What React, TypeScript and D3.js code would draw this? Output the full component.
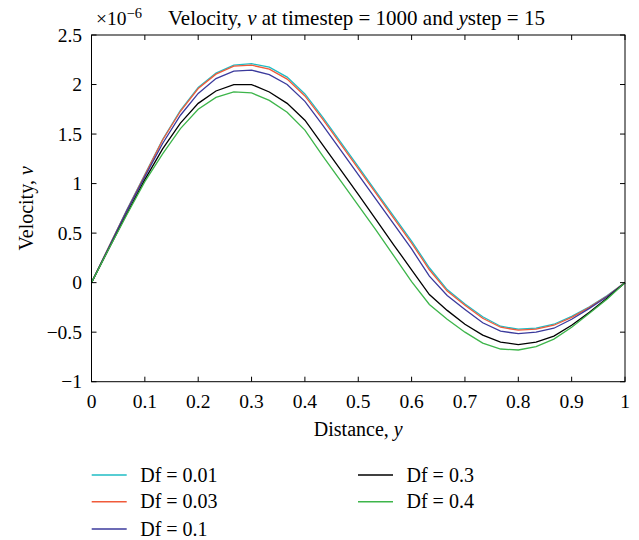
import React from "react";
import * as d3 from "d3";

const distance = [
  0, 0.0333, 0.0667, 0.1, 0.1333, 0.1667, 0.2, 0.2333, 0.2667, 0.3, 0.3333,
  0.3667, 0.4, 0.4333, 0.4667, 0.5, 0.5333, 0.5667, 0.6, 0.6333, 0.6667,
  0.7, 0.7333, 0.7667, 0.8, 0.8333, 0.8667, 0.9, 0.9333, 0.9667, 1,
];

const df001 = [
  0, 0.37, 0.74, 1.09, 1.445, 1.74, 1.97, 2.115, 2.195, 2.21, 2.175, 2.075,
  1.905, 1.67, 1.42, 1.17, 0.92, 0.67, 0.42, 0.15, -0.07, -0.215, -0.345,
  -0.44, -0.47, -0.46, -0.42, -0.34, -0.245, -0.13, 0,
];
const df003 = [
  0, 0.37, 0.735, 1.085, 1.44, 1.73, 1.96, 2.105, 2.185, 2.195, 2.155, 2.055,
  1.885, 1.65, 1.4, 1.15, 0.9, 0.65, 0.4, 0.13, -0.085, -0.228, -0.36, -0.45,
  -0.48, -0.47, -0.43, -0.35, -0.25, -0.135, 0,
];
const df01 = [
  0, 0.365, 0.73, 1.07, 1.405, 1.69, 1.91, 2.06, 2.135, 2.145, 2.1, 2.0, 1.83,
  1.59, 1.34, 1.09, 0.84, 0.59, 0.34, 0.065, -0.13, -0.27, -0.405, -0.49,
  -0.515, -0.5, -0.46, -0.37, -0.26, -0.14, 0,
];
const df03 = [
  0, 0.35, 0.7, 1.04, 1.35, 1.61, 1.81, 1.935, 2.0, 2.0, 1.925, 1.81, 1.64,
  1.39, 1.14, 0.89, 0.635, 0.38, 0.13, -0.12, -0.28, -0.42, -0.53, -0.6,
  -0.625, -0.6, -0.54, -0.43, -0.3, -0.155, 0,
];
const df04 = [
  0, 0.35, 0.69, 1.02, 1.3, 1.555, 1.75, 1.87, 1.925, 1.915, 1.84, 1.72, 1.54,
  1.28, 1.03, 0.78, 0.53, 0.27, 0.01, -0.22, -0.37, -0.5, -0.61, -0.67, -0.68,
  -0.645, -0.57, -0.45, -0.31, -0.165, 0,
];

const seriesNames = ["Df = 0.01", "Df = 0.03", "Df = 0.1", "Df = 0.3", "Df = 0.4"];
const seriesValues = [df001, df003, df01, df03, df04];
const seriesColors = ["#1fbcc4", "#f05a3a", "#3b3a9c", "#000000", "#3db54a"];

const xTicks = [0, 0.1, 0.2, 0.3, 0.4, 0.5, 0.6, 0.7, 0.8, 0.9, 1];
const xTickLabels = ["0", "0.1", "0.2", "0.3", "0.4", "0.5", "0.6", "0.7", "0.8", "0.9", "1"];
const yTicks = [-1, -0.5, 0, 0.5, 1, 1.5, 2, 2.5];
const yTickLabels = ["\u22121", "\u22120.5", "0", "0.5", "1", "1.5", "2", "2.5"];

const FONT = "'Liberation Serif', 'Times New Roman', serif";

export default function App() {
  const W = 639;
  const H = 540;
  const left = 91.5;
  const right = 625;
  const top = 35;
  const bottom = 381.7;
  const x = d3.scaleLinear().domain([0, 1]).range([left, right]);
  const y = d3.scaleLinear().domain([-1, 2.5]).range([bottom, top]);
  const line = d3
    .line<number>()
    .x((_, i) => x(distance[i]))
    .y((d) => y(d));
  const tick = 5;

  const legendPos = [
    { lx: 91.7, ty: 475 },
    { lx: 91.7, ty: 501.7 },
    { lx: 91.7, ty: 529 },
    { lx: 358, ty: 475 },
    { lx: 358, ty: 501.7 },
  ];

  return (
    <svg
      width={W}
      height={H}
      style={{ position: "absolute", left: 0, top: 0, background: "#fff" }}
      fontFamily={FONT}
    >
      <rect x={0} y={0} width={W} height={H} fill="#fff" />
      {seriesValues.map((vals, i) => (
        <path
          key={i}
          d={line(vals) || ""}
          fill="none"
          stroke={seriesColors[i]}
          strokeWidth={1.3}
        />
      ))}
      <rect
        x={left}
        y={top}
        width={right - left}
        height={bottom - top}
        fill="none"
        stroke="#000"
        strokeWidth={1}
      />
      {xTicks.map((t, i) => (
        <g key={"x" + i}>
          <line x1={x(t)} x2={x(t)} y1={bottom} y2={bottom - tick} stroke="#000" />
          <line x1={x(t)} x2={x(t)} y1={top} y2={top + tick} stroke="#000" />
          <text x={x(t)} y={407.5} fontSize={19.5} textAnchor="middle" fill="#000">
            {xTickLabels[i]}
          </text>
        </g>
      ))}
      {yTicks.map((t, i) => (
        <g key={"y" + i}>
          <line x1={left} x2={left + tick} y1={y(t)} y2={y(t)} stroke="#000" />
          <line x1={right} x2={right - tick} y1={y(t)} y2={y(t)} stroke="#000" />
          <text x={82} y={y(t) + 6.5} fontSize={19.5} textAnchor="end" fill="#000">
            {yTickLabels[i]}
          </text>
        </g>
      ))}
      <text x={(left + right) / 2} y={436} fontSize={20} textAnchor="middle" fill="#000">
        Distance, <tspan fontStyle="italic">y</tspan>
      </text>
      <text
        transform={`translate(33, ${(top + bottom) / 2}) rotate(-90)`}
        fontSize={20}
        textAnchor="middle"
        fill="#000"
      >
        Velocity, <tspan fontStyle="italic">v</tspan>
      </text>
      <text x={96} y={25} fontSize={19.5} fill="#000">
        ×10
        <tspan dy={-7} fontSize={14.5}>
          −6
        </tspan>
      </text>
      <text x={168} y={25} fontSize={21} fill="#000">
        Velocity, <tspan fontStyle="italic">v</tspan> at timestep = 1000 and{" "}
        <tspan fontStyle="italic">y</tspan>step = 15
      </text>
      {seriesNames.map((name, i) => (
        <g key={"l" + i}>
          <line
            x1={legendPos[i].lx}
            x2={legendPos[i].lx + 35}
            y1={legendPos[i].ty}
            y2={legendPos[i].ty}
            stroke={seriesColors[i]}
            strokeWidth={1.5}
          />
          <text x={legendPos[i].lx + 48.5} y={legendPos[i].ty + 6.5} fontSize={20} fill="#000">
            {name}
          </text>
        </g>
      ))}
    </svg>
  );
}
